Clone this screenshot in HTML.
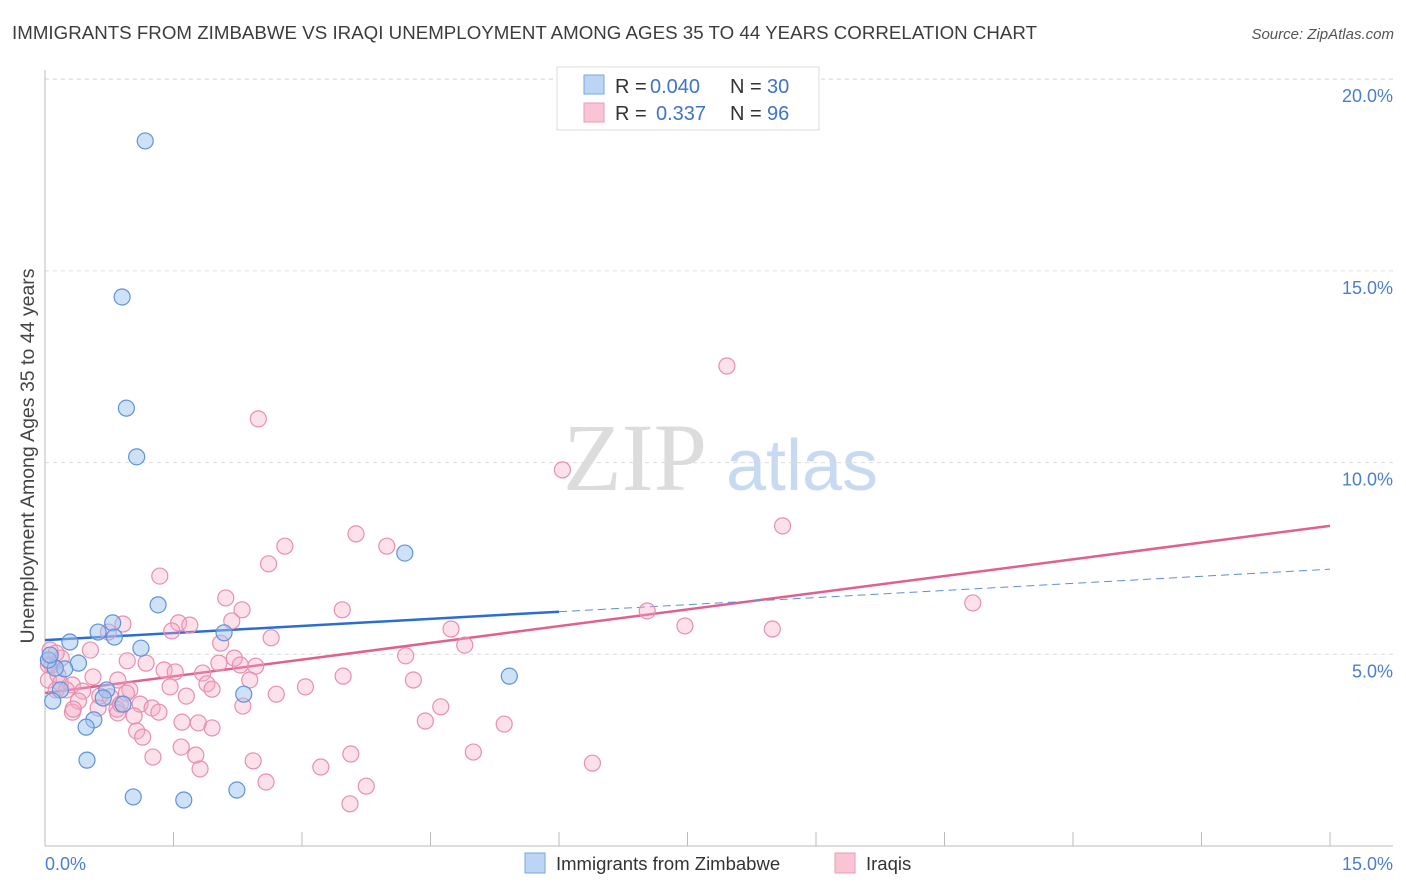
<!DOCTYPE html>
<html><head><meta charset="utf-8"><style>
body{margin:0;background:#fff;font-family:"Liberation Sans",sans-serif}
svg{display:block}
</style></head><body>
<svg id="chart" width="1406" height="892" viewBox="0 0 1406 892">
<text x="12" y="39" font-size="18.7" fill="#3c3c3c" textLength="1025">IMMIGRANTS FROM ZIMBABWE VS IRAQI UNEMPLOYMENT AMONG AGES 35 TO 44 YEARS CORRELATION CHART</text>
<text x="1394" y="39" font-size="15" fill="#555" font-style="italic" text-anchor="end">Source: ZipAtlas.com</text>
<g>
<text x="635" y="490" font-size="96" font-family="Liberation Serif,serif" fill="#dcdcdc" text-anchor="middle">ZIP</text>
<text x="802" y="490" font-size="72" fill="#c8daf2" text-anchor="middle">atlas</text>
</g>
<g id="grid"></g>
<g id="axes"></g>
<g id="trends"></g>
<g id="points"></g>
<text transform="translate(34,456) rotate(-90)" font-size="19.5" fill="#444" text-anchor="middle">Unemployment Among Ages 35 to 44 years</text>
<g>
<rect x="557" y="67" width="262" height="63" fill="#fff" stroke="#ddd"/>
<rect x="584" y="75" width="20" height="19" fill="#bcd5f5" stroke="#7aa6e3"/>
<rect x="584" y="103" width="20" height="19" fill="#f9c5d5" stroke="#eb9ab5"/>
<text x="615" y="93" font-size="20" fill="#333">R = <tspan fill="#3f73cc" x="650">0.040</tspan><tspan x="730">N = </tspan><tspan fill="#3f73cc" x="767">30</tspan></text>
<text x="615" y="120" font-size="20" fill="#333">R = <tspan fill="#3f73cc" x="656">0.337</tspan><tspan x="730">N = </tspan><tspan fill="#3f73cc" x="767">96</tspan></text>
</g>
<g>
<rect x="525" y="853" width="20" height="20" fill="#bcd5f5" stroke="#7aa6e3"/>
<text x="556" y="870" font-size="18.5" fill="#333">Immigrants from Zimbabwe</text>
<rect x="835" y="853" width="20" height="20" fill="#f9c5d5" stroke="#eb9ab5"/>
<text x="866" y="870" font-size="18.5" fill="#333">Iraqis</text>
</g>
</svg>
<script>
const yTicks=[5,10,15,20];
const yTickLabels=["5.0%","10.0%","15.0%","20.0%"];
const xTickLabels=["0.0%","15.0%"];
const blueX=[1.17,0.90,0.95,1.07,4.20,1.32,0.79,0.62,0.81,0.29,1.12,2.09,0.39,0.23,0.12,0.18,0.09,0.72,0.68,0.91,0.57,0.48,2.32,0.49,1.03,1.62,2.24,5.42,0.04,0.06];
const blueY=[18.39,14.32,11.42,10.15,7.64,6.29,5.82,5.58,5.45,5.32,5.16,5.56,4.77,4.62,4.64,4.07,3.78,4.07,3.86,3.70,3.29,3.10,3.96,2.24,1.28,1.20,1.46,4.43,4.85,4.98];
const pinkX=[7.96,2.49,6.04,8.61,3.63,2.80,3.99,2.61,1.34,2.11,2.30,3.47,7.03,10.83,1.56,1.69,1.48,0.91,0.74,7.47,8.49,4.74,2.18,2.64,2.05,4.90,0.53,4.21,0.19,2.21,0.96,1.18,2.03,2.28,2.46,1.39,1.52,1.84,3.48,0.56,2.39,4.30,1.89,0.04,0.18,0.32,0.85,0.13,0.25,0.44,0.99,1.46,3.04,1.95,2.70,0.95,1.65,0.64,1.11,1.25,0.84,0.39,2.31,0.32,1.33,0.33,4.62,0.85,1.04,1.60,1.79,1.95,4.44,5.36,1.07,1.14,1.59,1.26,1.76,3.57,5.00,2.43,1.81,3.22,6.39,2.58,3.75,3.56,0.06,0.08,0.15,0.04,0.13,0.76,0.62,0.88];
const pinkY=[12.52,11.14,9.81,8.35,8.14,7.82,7.82,7.36,7.04,6.47,6.16,6.16,6.13,6.34,5.82,5.76,5.61,5.79,5.58,5.74,5.66,5.66,5.87,5.43,5.29,5.24,5.11,4.96,4.90,4.90,4.83,4.77,4.77,4.72,4.69,4.59,4.54,4.51,4.43,4.41,4.33,4.33,4.23,4.33,4.25,4.20,4.33,4.07,4.07,4.04,4.07,4.15,4.15,4.09,3.96,3.99,3.91,3.91,3.70,3.60,3.57,3.78,3.65,3.49,3.49,3.57,3.63,3.47,3.39,3.23,3.21,3.08,3.26,3.18,3.00,2.84,2.58,2.32,2.37,2.40,2.45,2.22,2.01,2.06,2.16,1.67,1.56,1.10,5.11,4.72,4.46,4.72,5.03,3.89,3.60,3.70];
const blueTrend=[5.37,7.22];
const pinkTrend=[3.99,8.35];
const blueSolidEnd=6.0;
const X0=45,X1=1330,Y0=846,YPER=191.7/5;
const sx=v=>X0+v*(X1-X0)/15, sy=v=>Y0-v*YPER;
const NS="http://www.w3.org/2000/svg";
function mk(tag,attrs,parent){const e=document.createElementNS(NS,tag);for(const k in attrs)e.setAttribute(k,attrs[k]);document.getElementById(parent).appendChild(e);return e;}
yTicks.forEach((t,i)=>{
 const g=mk('line',{x1:45,x2:1393,y1:sy(t),y2:sy(t),stroke:'#dcdcdc','stroke-dasharray':'4,4'},'grid');
 
 
 const l=mk('text',{x:1393,y:sy(t)+23,'font-size':18,fill:'#4a7fd0','text-anchor':'end'},'grid');
 l.textContent=yTickLabels[i];
 
 
});
const tg=mk('line',{x1:45,x2:1393,y1:79,y2:79,stroke:'#dcdcdc','stroke-dasharray':'4,4'},'grid');


const ya=mk('line',{x1:45,x2:45,y1:70,y2:846,stroke:'#bbb'},'axes');


const xa=mk('line',{x1:45,x2:1393,y1:846,y2:846,stroke:'#bbb'},'axes');


for(let i=0;i<=10;i++){
 const t=mk('line',{x1:sx(i*1.5),x2:sx(i*1.5),y1:832,y2:846,stroke:'#bbb'},'axes');
 
 
}
const xl0=mk('text',{x:45,y:870,'font-size':18,fill:'#4a7fd0'},'axes');
xl0.textContent=xTickLabels[0];


const xl1=mk('text',{x:1393,y:870,'font-size':18,fill:'#4a7fd0','text-anchor':'end'},'axes');
xl1.textContent=xTickLabels[1];


const lerp=(a,v)=>a[0]+(a[1]-a[0])*v/15;
const pt=mk('line',{x1:sx(0),y1:sy(pinkTrend[0]),x2:sx(15),y2:sy(pinkTrend[1]),stroke:'#e0608f','stroke-width':2.5},'trends');


const bs=mk('line',{x1:sx(0),y1:sy(blueTrend[0]),x2:sx(blueSolidEnd),y2:sy(lerp(blueTrend,blueSolidEnd)),stroke:'#2a6dd4','stroke-width':2.5},'trends');


const bd=mk('line',{x1:sx(blueSolidEnd),y1:sy(lerp(blueTrend,blueSolidEnd)),x2:sx(15),y2:sy(blueTrend[1]),stroke:'#5a8fdc','stroke-width':1,'stroke-dasharray':'8,5'},'trends');


pinkX.forEach((x,i)=>{
 const c=mk('circle',{cx:sx(x),cy:sy(pinkY[i]),r:8,fill:'rgba(247,170,195,0.35)',stroke:'#e98eaf','stroke-width':1.2},'points');
 
 
});
blueX.forEach((x,i)=>{
 const c=mk('circle',{cx:sx(x),cy:sy(blueY[i]),r:8,fill:'rgba(160,195,240,0.5)',stroke:'#5d93dd','stroke-width':1.2},'points');
 
 
});
</script>
</body></html>
